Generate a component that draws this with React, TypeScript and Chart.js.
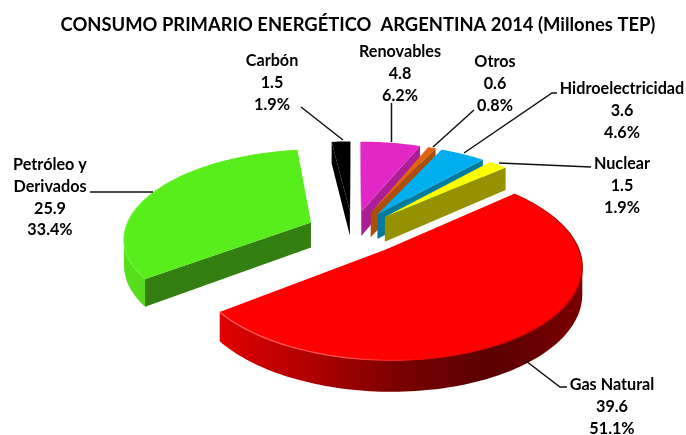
import React, { useEffect, useRef } from "react";
import { Chart, registerables } from "chart.js";

Chart.register(...registerables);

const categories = ["Gas Natural", "Petróleo y Derivados", "Carbón", "Renovables", "Otros", "Hidroelectricidad", "Nuclear"];
const values = [39.6, 25.9, 1.5, 4.8, 0.6, 3.6, 1.5];
const percents = ["51.1%", "33.4%", "1.9%", "6.2%", "0.8%", "4.6%", "1.9%"];
const explode = [25, 29, 25, 25, 25, 25, 25];
const drift = [-0.022, 0, -0.04, -0.04, -0.04, -0.04, -0.04];
const topColors = ["#ff0000", "#58ee1c", "#000000", "#e327c6", "#e0650f", "#00aeef", "#ffff00"];
const cutColors = ["#a80000", "#347f12", "#000000", "#ac1e97", "#aa4f0c", "#007a9f", "#969100"];
const rimStops: string[][] = [
  ["#e00000", "#b00000", "#780000", "#5a0000", "#7a0000"],
  ["#58e01c", "#4fd219", "#45b817", "#3e9f14", "#3a8f14"],
  ["#000000", "#000000"],
  ["#ac1e97", "#ac1e97"],
  ["#aa4f0c", "#aa4f0c"],
  ["#007a9f", "#007a9f"],
  ["#969100", "#969100"],
];
const title = "CONSUMO PRIMARIO ENERGÉTICO  ARGENTINA 2014 (Millones TEP)";

const labelLines = [
  ["Gas Natural", "39.6", "51.1%"],
  ["Petróleo y", "Derivados", "25.9", "33.4%"],
  ["Carbón", "1.5", "1.9%"],
  ["Renovables", "4.8", "6.2%"],
  ["Otros", "0.6", "0.8%"],
  ["Hidroelectricidad", "3.6", "4.6%"],
  ["Nuclear", "1.5", "1.9%"],
];

const CX = 360, CY = 232, RX = 186.5, RY = 87, K = 0.16, DEPTH = 25.5;
const labelAnchors = [[612, 385], [50, 165], [272, 61], [400, 52], [495, 62], [622, 89], [622, 164]];
const leaders = [
  [[526, 361], [560, 387], [567, 387]],
  [[153, 192], [90, 192]],
  [[343, 140], [301, 107]],
  [[391.5, 142], [391.5, 103]],
  [[433, 147], [474, 110]],
  [[464, 153], [552, 93], [557, 93]],
  [[499, 163], [591, 167]],
];

type P = { x: number; y: number; s: number };
const project = (u: number, v: number): P => {
  const s = 1 / (1 - K * v);
  return { x: CX + RX * u * s, y: CY + RY * v * s, s };
};

const wallPath = (ctx: CanvasRenderingContext2D, run: P[]) => {
  ctx.beginPath();
  run.forEach((p, j) => (j ? ctx.lineTo(p.x, p.y) : ctx.moveTo(p.x, p.y)));
  [...run].reverse().forEach((p) => ctx.lineTo(p.x, p.y + DEPTH * p.s));
  ctx.closePath();
};

const pie3d = {
  id: "pie3d",
  beforeDatasetsDraw(chart: any) {
    const ctx: CanvasRenderingContext2D = chart.ctx;
    const meta = chart.getDatasetMeta(0);
    const slices = meta.data.map((arc: any, i: number) => {
      const mid = (arc.startAngle + arc.endAngle) / 2;
      const e = (arc.options.offset || 0) / 100;
      const ou = e * Math.cos(mid) + drift[i], ov = e * Math.sin(mid);
      const pts: P[] = [project(ou, ov)];
      const n = Math.max(4, Math.ceil((arc.endAngle - arc.startAngle) * 40));
      for (let j = 0; j <= n; j++) {
        const t = arc.startAngle + ((arc.endAngle - arc.startAngle) * j) / n;
        pts.push(project(ou + Math.cos(t), ov + Math.sin(t)));
      }
      return { i, pts, ov, fill: arc.options.backgroundColor };
    });
    slices.sort((a: any, b: any) => a.ov - b.ov);
    for (const sl of slices) {
      const { pts, i } = sl;
      const xs = pts.map((p: P) => p.x);
      const x0 = Math.min(...xs), x1 = Math.max(...xs);
      const grad = ctx.createLinearGradient(x0, 0, x1, 0);
      rimStops[i].forEach((c, j) => grad.addColorStop(j / (rimStops[i].length - 1), c));

      // rim: contiguous facing segments as one polygon
      const arcPts: P[] = pts.slice(1);
      let run: P[] = [];
      const flush = () => {
        if (run.length > 1) {
          wallPath(ctx, run);
          ctx.fillStyle = grad;
          ctx.fill();
        }
        run = [];
      };
      for (let j = 0; j < arcPts.length - 1; j++) {
        if (arcPts[j + 1].x < arcPts[j].x) {
          if (!run.length) run.push(arcPts[j]);
          run.push(arcPts[j + 1]);
        } else flush();
      }
      flush();

      // cut faces
      const last = pts[pts.length - 1];
      for (const [a, b] of [[pts[0], pts[1]], [last, pts[0]]] as P[][]) {
        if (b.x >= a.x) continue;
        wallPath(ctx, [a, b]);
        ctx.fillStyle = cutColors[i];
        ctx.fill();
      }

      // top face
      ctx.beginPath();
      pts.forEach((p: P, j: number) => (j ? ctx.lineTo(p.x, p.y) : ctx.moveTo(p.x, p.y)));
      ctx.closePath();
      ctx.fillStyle = sl.fill;
      ctx.fill();

      if (i === 0 || i === 1) {
        const hl = ctx.createLinearGradient(x0, 0, x1, 0);
        if (i === 0) {
          hl.addColorStop(0, "#ff6060");
          hl.addColorStop(0.35, "#ff5050");
          hl.addColorStop(0.55, "#ff0000");
          hl.addColorStop(0.85, "#e00000");
          hl.addColorStop(1, "#a00000");
        } else {
          hl.addColorStop(0, "#70f53a");
          hl.addColorStop(0.3, "#58ee1c");
          hl.addColorStop(1, "#58ee1c");
        }
        ctx.beginPath();
        arcPts.forEach((p: P, j: number) => (j ? ctx.lineTo(p.x, p.y) : ctx.moveTo(p.x, p.y)));
        ctx.strokeStyle = hl;
        ctx.lineWidth = 1.2;
        ctx.stroke();
      }
    }
    return false;
  },
  afterDraw(chart: any) {
    const ctx: CanvasRenderingContext2D = chart.ctx;
    ctx.save();
    ctx.strokeStyle = "#111111";
    ctx.lineWidth = 1.5;
    leaders.forEach((line) => {
      ctx.beginPath();
      line.forEach(([x, y], j) => (j ? ctx.lineTo(x, y) : ctx.moveTo(x, y)));
      ctx.stroke();
    });
    ctx.fillStyle = "#000000";
    ctx.textAlign = "center";
    ctx.textBaseline = "middle";
    ctx.font = "bold 16.2px Lato";
    labelLines.forEach((lines, i) => {
      const [x, y] = labelAnchors[i];
      lines.forEach((t, j) => ctx.fillText(t, x, y + j * 21.7));
    });
    ctx.font = "bold 18.4px Lato";
    ctx.fillText(title, 358, 25);
    ctx.restore();
  },
};

export default function App() {
  const ref = useRef<HTMLCanvasElement>(null);
  useEffect(() => {
    document.body.style.margin = "0";
    const chart = new Chart(ref.current!, {
      type: "pie",
      data: {
        labels: categories,
        datasets: [{ data: values, backgroundColor: topColors, offset: explode, borderWidth: 0 }],
      },
      options: {
        responsive: false,
        animation: false,
        rotation: 48.5,
        events: [],
        plugins: { legend: { display: false }, tooltip: { enabled: false } },
      },
      plugins: [pie3d],
    } as any);
    return () => chart.destroy();
  }, []);
  return <canvas ref={ref} width={686} height={435} style={{ display: "block" }} aria-label={percents.join(" ")} />;
}
